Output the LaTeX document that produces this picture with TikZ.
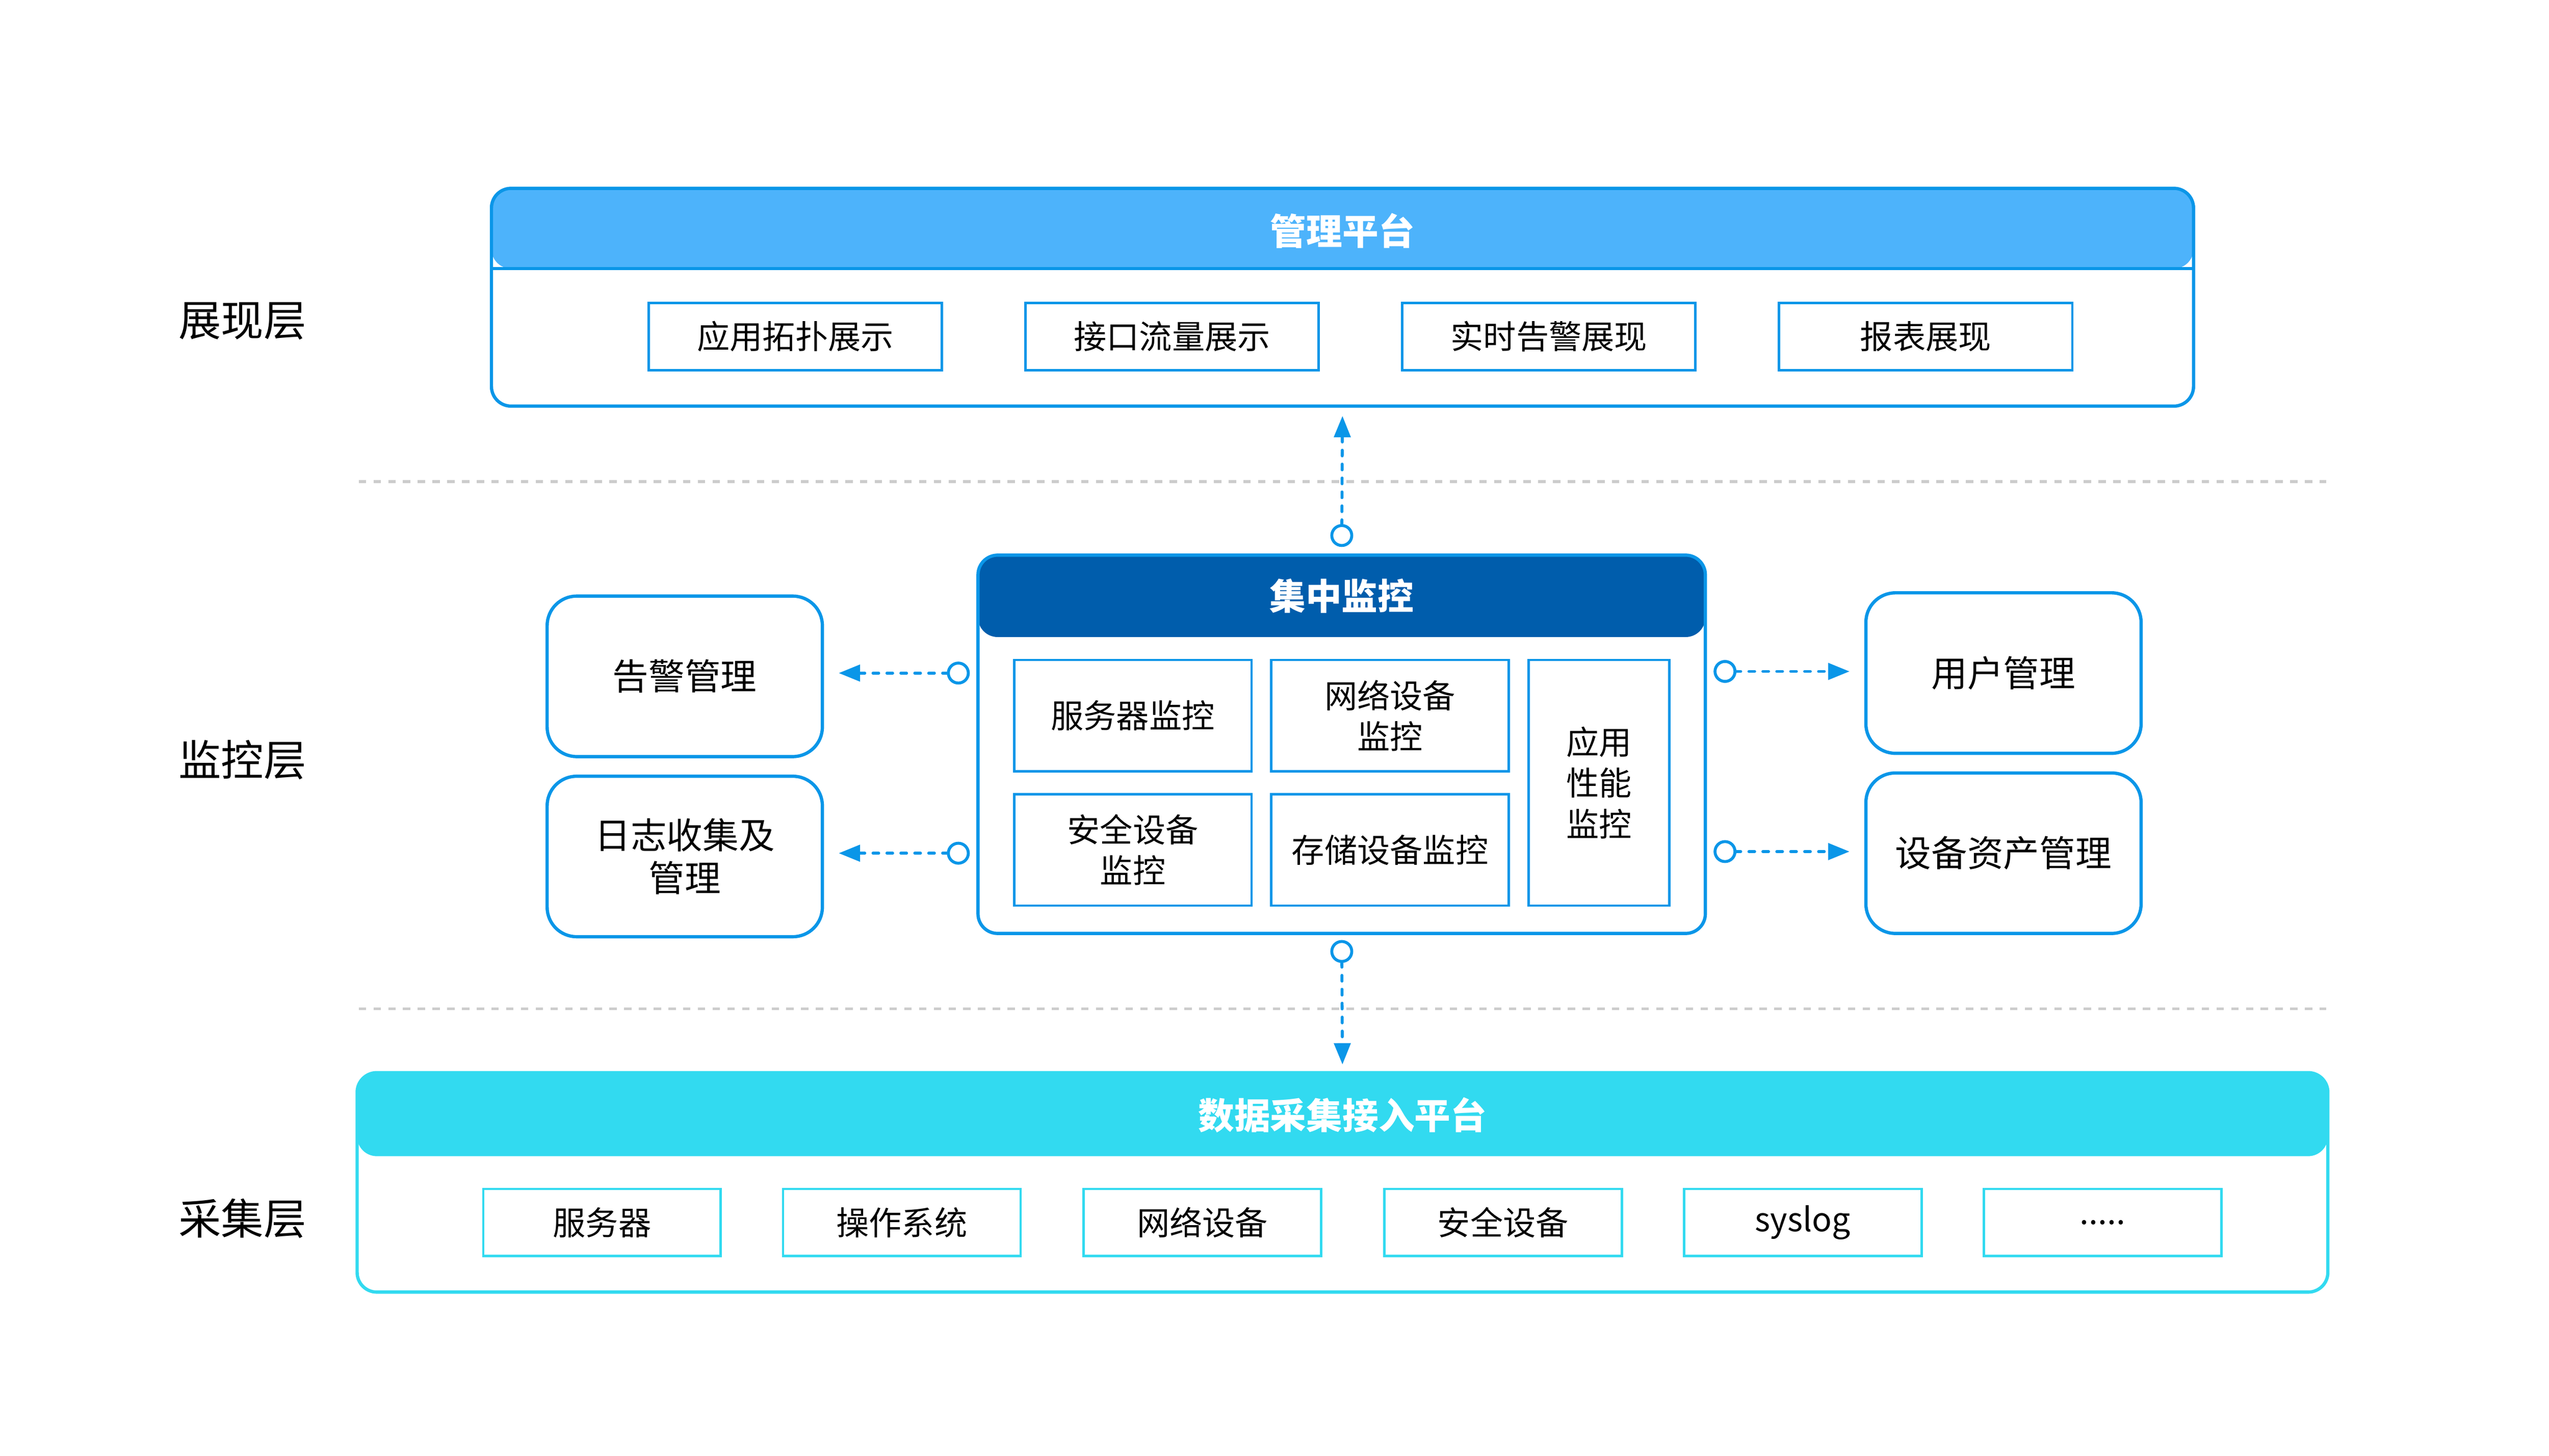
\documentclass[tikz,border=0pt]{standalone}
\usepackage{fontspec}
\setmainfont{Noto Sans CJK SC}
\usetikzlibrary{arrows.meta}
\definecolor{bord}{RGB}{10,150,232}
\definecolor{hdrA}{RGB}{77,179,251}
\definecolor{hdrB}{RGB}{0,93,172}
\definecolor{cyanC}{RGB}{50,218,240}
\definecolor{sepgray}{RGB}{204,204,204}
\begin{document}
\begin{tikzpicture}[x=1pt,y=-1pt,
  panel/.style={draw=bord, line width=2pt, rounded corners=12pt, fill=white, inner sep=0pt},
  item/.style={draw=bord, line width=1.5pt, minimum width=179pt, minimum height=41pt, inner sep=0pt, font=\fontsize{20}{24}\selectfont},
  bitem/.style={item, draw=cyanC, minimum width=145pt},
  cell/.style={draw=bord, line width=1.5pt, minimum width=145pt, minimum height=68pt, inner sep=0pt, align=center, font=\fontsize{20}{25}\selectfont},
  side/.style={draw=bord, line width=2pt, rounded corners=18pt, minimum width=168pt, minimum height=98pt, inner sep=0pt, align=center, font=\fontsize{22}{26}\selectfont},
  layer/.style={font=\fontsize{26}{30}\selectfont},
  ttl/.style={text=white, font=\bfseries\fontsize{22}{26}\selectfont},
  conn/.style={draw=bord, line width=1.8pt, line cap=round, dash pattern=on 3.5pt off 5pt,
    {Circle[open,length=14pt,width=14pt,line cap=butt]}-{Triangle[length=13pt,width=10pt]}},
  sepline/.style={draw=sepgray, line width=1.8pt, dash pattern=on 4.5pt off 4.5pt}
]
\useasboundingbox (0,0) rectangle (1556,889);

% layer labels
\node[layer] (l1) at (148,196) {展现层};
\node[layer] (l2) at (148,464) {监控层};
\node[layer] (l3) at (148,744) {采集层};

% separators
\draw[sepline] (219,294) -- (1420,294);
\draw[sepline] (219,616) -- (1420,616);

% top panel
\node[panel, minimum width=1039pt, minimum height=133pt,
  path picture={\fill[hdrA] (path picture bounding box.north west) rectangle ([yshift=-49pt]path picture bounding box.north east);
  \draw[bord, line width=2pt] ([yshift=-49pt]path picture bounding box.north west) -- ([yshift=-49pt]path picture bounding box.north east);}]
  (top) at (819.5,181.5) {};
\node[ttl] (toptitle) at (819.5,141) {管理平台};
\node[item] (t1) at (485.5,205.5) {应用拓扑展示};
\node[item] (t2) at (715.5,205.5) {接口流量展示};
\node[item] (t3) at (945.5,205.5) {实时告警展现};
\node[item] (t4) at (1175.5,205.5) {报表展现};

% center panel
\node[panel, minimum width=444pt, minimum height=231pt,
  path picture={\fill[hdrB] (path picture bounding box.north west) rectangle ([yshift=-50pt]path picture bounding box.north east);}]
  (cm) at (819,454.5) {};
\node[ttl] (cmtitle) at (819,364) {集中监控};
\node[cell] (c1) at (691.5,437) {服务器监控};
\node[cell] (c2) at (848.5,437) {网络设备\\监控};
\node[cell] (c3) at (691.5,519) {安全设备\\监控};
\node[cell] (c4) at (848.5,519) {存储设备监控};
\node[cell, minimum width=86pt, minimum height=150pt] (c5) at (976,478) {应用\\性能\\监控};

% side boxes
\node[side] (alarm) at (418,413) {告警管理};
\node[side] (logm) at (418,523) {日志收集及\\管理};
\node[side] (user) at (1223,411) {用户管理};
\node[side] (asset) at (1223,521) {设备资产管理};

% bottom panel
\node[panel, draw=cyanC, minimum width=1203pt, minimum height=134pt,
  path picture={\fill[cyanC] (path picture bounding box.north west) rectangle ([yshift=-51pt]path picture bounding box.north east);}]
  (collect) at (819.5,722) {};
\node[ttl] (coltitle) at (819.5,681) {数据采集接入平台};
\node[bitem] (b1) at (367.5,746.5) {服务器};
\node[bitem] (b2) at (550.5,746.5) {操作系统};
\node[bitem] (b3) at (734,746.5) {网络设备};
\node[bitem] (b4) at (917.5,746.5) {安全设备};
\node[bitem] (b5) at (1100.5,746.5) {syslog};
\node[bitem] (b6) at (1283.5,746.5) {.....};

% connectors
\draw[conn, shorten <=4pt, shorten >=5pt] (cm.north) -- (top.south);
\draw[conn, shorten <=4pt, shorten >=9pt] ([yshift=2pt]alarm.east -| cm.west) -- ([yshift=2pt]alarm.east);
\draw[conn, shorten <=4pt, shorten >=9pt] ([yshift=2pt]logm.east -| cm.west) -- ([yshift=2pt]logm.east);
\draw[conn, shorten <=4pt, shorten >=9pt] ([yshift=1pt]user.west -| cm.east) -- ([yshift=1pt]user.west);
\draw[conn, shorten <=4pt, shorten >=9pt] ([yshift=1pt]asset.west -| cm.east) -- ([yshift=1pt]asset.west);
\draw[conn, shorten <=3pt, shorten >=4pt] (cm.south) -- (collect.north);
\end{tikzpicture}
\end{document}
